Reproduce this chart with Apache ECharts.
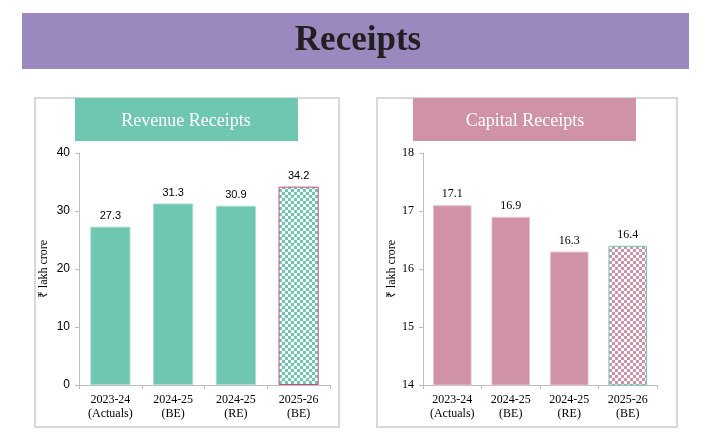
<!DOCTYPE html>
<html>
<head>
<meta charset="utf-8">
<script src="https://cdn.jsdelivr.net/npm/echarts@6/dist/echarts.min.js"></script>
<style>
html,body{margin:0;padding:0;background:#fff;}
#main{width:717px;height:443px;}
</style>
</head>
<body>
<div id="main"></div>
<script>
var categories = ['2023-24\n(Actuals)', '2024-25\n(BE)', '2024-25\n(RE)', '2025-26\n(BE)'];
var revenueValues = [27.3, 31.3, 30.9, 34.2];
var capitalValues = [17.1, 16.9, 16.3, 16.4];
var revenueTicks = [0, 10, 20, 30, 40];
var capitalTicks = [14, 15, 16, 17, 18];

var TEAL = '#6fc7b1';
var PINK = '#d092a7';

function checker(color) {
  var c = document.createElement('canvas');
  c.width = 6; c.height = 6;
  var ctx = c.getContext('2d');
  ctx.fillStyle = '#ffffff';
  ctx.fillRect(0, 0, 6, 6);
  ctx.fillStyle = color;
  ctx.fillRect(0, 0, 3, 3);
  ctx.fillRect(3, 3, 3, 3);
  return c;
}

function barData(values, color, lastBorder) {
  return values.map(function (v, i) {
    if (i === values.length - 1) {
      return {
        value: v,
        itemStyle: {
          color: { image: checker(color), repeat: 'repeat' },
          borderColor: lastBorder,
          borderWidth: 1
        }
      };
    }
    return { value: v };
  });
}

var chart = echarts.init(document.getElementById('main'), null, { renderer: 'canvas' });

var axisLineStyle = { color: '#bfbfbf', width: 1 };
var serif = '"Liberation Serif", "Times New Roman", serif';
var sans = '"Liberation Sans", Arial, sans-serif';

chart.setOption({
  animation: false,
  backgroundColor: '#ffffff',
  graphic: [
    { type: 'rect', shape: { x: 22, y: 13, width: 667, height: 56 }, style: { fill: '#9b88bf' }, z: 0 },
    { type: 'text', x: 358, y: 41, style: { text: 'Receipts', font: 'bold 35px ' + serif, fill: '#231f20', textAlign: 'center', textVerticalAlign: 'middle' }, z: 1 },
    { type: 'rect', shape: { x: 35, y: 98, width: 304, height: 329 }, style: { fill: '#ffffff', stroke: '#d9d9d9', lineWidth: 2 }, z: 0 },
    { type: 'rect', shape: { x: 377, y: 98, width: 300, height: 329 }, style: { fill: '#ffffff', stroke: '#d9d9d9', lineWidth: 2 }, z: 0 },
    { type: 'rect', shape: { x: 75, y: 98, width: 223, height: 43 }, style: { fill: TEAL }, z: 1 },
    { type: 'text', x: 186, y: 121, style: { text: 'Revenue Receipts', font: '18px ' + serif, fill: '#ffffff', textAlign: 'center', textVerticalAlign: 'middle' }, z: 2 },
    { type: 'rect', shape: { x: 413, y: 98, width: 223, height: 43 }, style: { fill: PINK }, z: 1 },
    { type: 'text', x: 525, y: 121, style: { text: 'Capital Receipts', font: '18px ' + serif, fill: '#ffffff', textAlign: 'center', textVerticalAlign: 'middle' }, z: 2 }
  ],
  grid: [
    { left: 79, right: 387, top: 153, bottom: 58 },
    { left: 423, right: 60, top: 153, bottom: 58 }
  ],
  xAxis: [
    {
      type: 'category', gridIndex: 0, data: categories,
      axisLine: { lineStyle: axisLineStyle },
      axisTick: { show: true, length: 4, lineStyle: axisLineStyle },
      axisLabel: { interval: 0, color: '#000', fontFamily: serif, fontSize: 12, lineHeight: 14, margin: 8 }
    },
    {
      type: 'category', gridIndex: 1, data: categories,
      axisLine: { lineStyle: axisLineStyle },
      axisTick: { show: true, length: 4, lineStyle: axisLineStyle },
      axisLabel: { interval: 0, color: '#000', fontFamily: serif, fontSize: 12, lineHeight: 14, margin: 8 }
    }
  ],
  yAxis: [
    {
      type: 'value', gridIndex: 0, min: revenueTicks[0], max: revenueTicks[revenueTicks.length - 1], interval: 10,
      name: '₹ lakh crore', nameLocation: 'middle', nameGap: 29, nameRotate: 90,
      nameTextStyle: { fontFamily: serif, fontSize: 12, color: '#000' },
      axisLine: { show: true, lineStyle: axisLineStyle },
      axisTick: { show: true, length: 4, lineStyle: axisLineStyle },
      splitLine: { show: false },
      axisLabel: { color: '#000', fontFamily: sans, fontSize: 12, margin: 9 }
    },
    {
      type: 'value', gridIndex: 1, min: capitalTicks[0], max: capitalTicks[capitalTicks.length - 1], interval: 1,
      name: '₹ lakh crore', nameLocation: 'middle', nameGap: 25, nameRotate: 90,
      nameTextStyle: { fontFamily: serif, fontSize: 12, color: '#000' },
      axisLine: { show: true, lineStyle: axisLineStyle },
      axisTick: { show: true, length: 4, lineStyle: axisLineStyle },
      splitLine: { show: false },
      axisLabel: { color: '#000', fontFamily: serif, fontSize: 12, margin: 9 }
    }
  ],
  series: [
    {
      type: 'bar', xAxisIndex: 0, yAxisIndex: 0, barWidth: '64%',
      data: barData(revenueValues, TEAL, '#c0507a'),
      itemStyle: { color: TEAL, borderColor: '#a8ddd0', borderWidth: 1 },
      label: { show: true, position: 'top', distance: 5, color: '#000', fontFamily: sans, fontSize: 11, formatter: function (p) { return p.value.toFixed(1); } }
    },
    {
      type: 'bar', xAxisIndex: 1, yAxisIndex: 1, barWidth: '66%',
      data: barData(capitalValues, PINK, '#6fc7b1'),
      itemStyle: { color: PINK, borderColor: '#e6c3cf', borderWidth: 1 },
      label: { show: true, position: 'top', distance: 5, color: '#000', fontFamily: serif, fontSize: 12, formatter: function (p) { return p.value.toFixed(1); } }
    }
  ]
});
</script>
</body>
</html>
